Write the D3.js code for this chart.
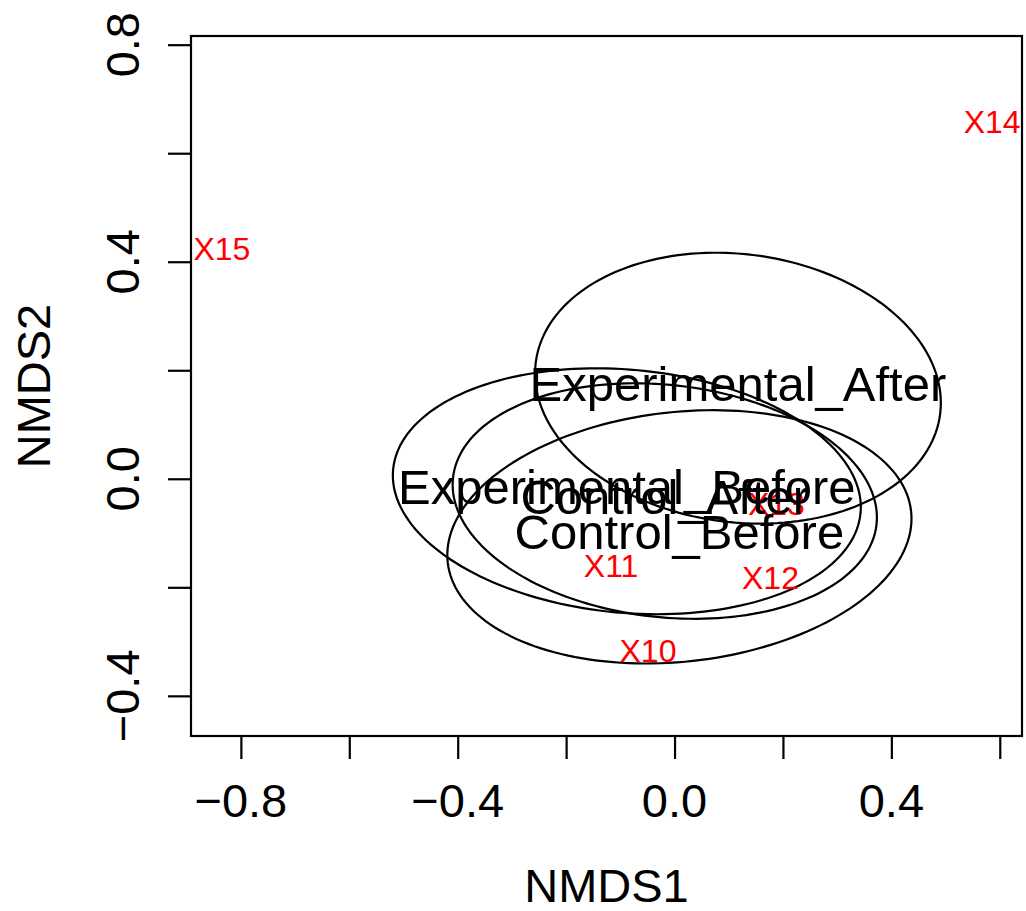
<!DOCTYPE html>
<html>
<head>
<meta charset="utf-8">
<script src="https://cdn.jsdelivr.net/npm/d3@7/dist/d3.min.js"></script>
<style>
  html, body { margin: 0; padding: 0; background: #ffffff; }
  svg { display: block; font-family: "Liberation Sans", Arial, Helvetica, sans-serif; }
</style>
</head>
<body>
<svg id="chart" width="1026" height="911"></svg>
<script>
// NMDS site scores (labelled sites)
const siteNames = ["X10", "X11", "X12", "X13", "X14", "X15"];
const siteNMDS1 = [-0.049, -0.117, 0.177, 0.188, 0.586, -0.835];
const siteNMDS2 = [-0.323, -0.166, -0.188, -0.051, 0.652, 0.419];

// Group dispersion ellipses: centre, semi-axes and rotation (degrees)
const groupNames = ["Experimental_After", "Experimental_Before", "Control_After", "Control_Before"];
const groupCx = [0.117, -0.088, -0.018, 0.009];
const groupCy = [0.167, -0.023, -0.041, -0.107];
const groupA = [0.376, 0.433, 0.393, 0.430];
const groupB = [0.247, 0.224, 0.214, 0.230];
const groupAngle = [-7.3, -5.3, -6.3, 6.3];

// Axis ticks and labels
const xTickValues = [-0.8, -0.6, -0.4, -0.2, 0.0, 0.2, 0.4, 0.6];
const xLabelValues = [-0.8, -0.4, 0.0, 0.4];
const yTickValues = [-0.4, -0.2, 0.0, 0.2, 0.4, 0.6, 0.8];
const yLabelValues = [-0.4, 0.0, 0.4, 0.8];
const xTitle = "NMDS1";
const yTitle = "NMDS2";

const box = { left: 191, right: 1022, top: 36, bottom: 736 };
const xDomain = [-0.892, 0.641];
const yDomain = [-0.474, 0.816];

const svg = d3.select("#chart");
const x = d3.scaleLinear().domain(xDomain).range([box.left, box.right]);
const y = d3.scaleLinear().domain(yDomain).range([box.bottom, box.top]);

const fmt = v => (v < 0 ? "\u2212" : "") + Math.abs(v).toFixed(1);
const tickLen = 23;
const axisFont = 47;
const lineW = 2.2;

// Bottom axis
const xAxis = d3.axisBottom(x)
  .tickValues(xTickValues)
  .tickSize(tickLen)
  .tickPadding(0)
  .tickFormat(() => "");
const gx = svg.append("g").attr("transform", `translate(0,${box.bottom})`).call(xAxis);
gx.select(".domain").remove();
gx.selectAll(".tick line").attr("stroke", "#000").attr("stroke-width", lineW);

svg.append("g").selectAll("text")
  .data(xLabelValues)
  .join("text")
  .attr("x", d => x(d))
  .attr("y", 817)
  .attr("text-anchor", "middle")
  .attr("font-size", axisFont)
  .attr("fill", "#000")
  .text(fmt);

// Left axis
const yAxis = d3.axisLeft(y)
  .tickValues(yTickValues)
  .tickSize(tickLen)
  .tickPadding(0)
  .tickFormat(() => "");
const gy = svg.append("g").attr("transform", `translate(${box.left},0)`).call(yAxis);
gy.select(".domain").remove();
gy.selectAll(".tick line").attr("stroke", "#000").attr("stroke-width", lineW);

svg.append("g").selectAll("text")
  .data(yLabelValues)
  .join("text")
  .attr("transform", d => `translate(139,${y(d)}) rotate(-90)`)
  .attr("text-anchor", "middle")
  .attr("font-size", axisFont)
  .attr("fill", "#000")
  .text(fmt);

// Axis titles
svg.append("text")
  .attr("x", (box.left + box.right) / 2)
  .attr("y", 902)
  .attr("text-anchor", "middle")
  .attr("font-size", axisFont)
  .text(xTitle);

svg.append("text")
  .attr("transform", `translate(50,${(box.top + box.bottom) / 2}) rotate(-90)`)
  .attr("text-anchor", "middle")
  .attr("font-size", axisFont)
  .text(yTitle);

// Plot frame
svg.append("rect")
  .attr("x", box.left)
  .attr("y", box.top)
  .attr("width", box.right - box.left)
  .attr("height", box.bottom - box.top)
  .attr("fill", "none")
  .attr("stroke", "#000")
  .attr("stroke-width", lineW);

// Ellipses traced in data space, then mapped through the scales
const groups = groupNames.map((name, i) => ({
  name, cx: groupCx[i], cy: groupCy[i], a: groupA[i], b: groupB[i], angle: groupAngle[i]
}));
const thetas = d3.range(0, 2 * Math.PI, Math.PI / 90);
const ellipseLine = d3.line().x(p => x(p[0])).y(p => y(p[1])).curve(d3.curveLinearClosed);

function ellipsePoints(g) {
  const r = g.angle * Math.PI / 180;
  return thetas.map(t => {
    const u = g.a * Math.cos(t), v = g.b * Math.sin(t);
    return [g.cx + u * Math.cos(r) - v * Math.sin(r), g.cy + u * Math.sin(r) + v * Math.cos(r)];
  });
}

svg.append("g").selectAll("path")
  .data(groups)
  .join("path")
  .attr("d", g => ellipseLine(ellipsePoints(g)))
  .attr("fill", "none")
  .attr("stroke", "#000")
  .attr("stroke-width", lineW);

// Site labels
svg.append("g").selectAll("text")
  .data(siteNames.map((n, i) => ({ n, sx: siteNMDS1[i], sy: siteNMDS2[i] })))
  .join("text")
  .attr("x", d => x(d.sx))
  .attr("y", d => y(d.sy))
  .attr("dy", "0.258em")
  .attr("text-anchor", "middle")
  .attr("font-size", 32)
  .attr("fill", "#ff0000")
  .text(d => d.n);

// Group labels at ellipse centres
svg.append("g").selectAll("text")
  .data(groups)
  .join("text")
  .attr("x", g => x(g.cx))
  .attr("y", g => y(g.cy))
  .attr("dy", "0.258em")
  .attr("text-anchor", "middle")
  .attr("font-size", 49)
  .attr("fill", "#000")
  .text(g => g.name);
</script>
</body>
</html>
